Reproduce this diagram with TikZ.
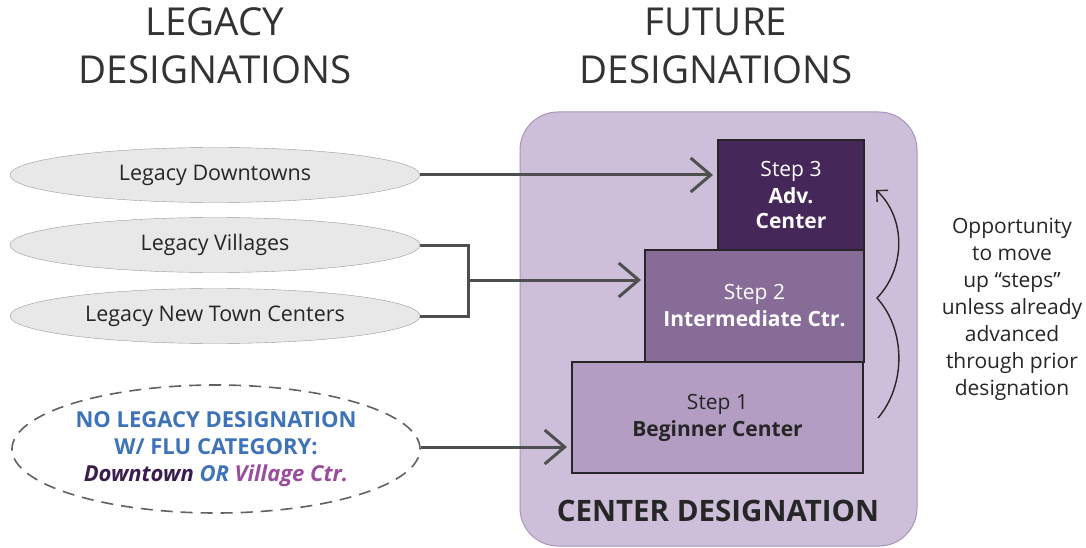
\documentclass[tikz,border=0pt]{standalone}
\usepackage{fontspec}
\setmainfont{Open Sans}
\usetikzlibrary{shapes.geometric,arrows.meta}
\definecolor{bgp}{HTML}{CDBFD9}
\definecolor{bgpb}{HTML}{A995B8}
\definecolor{s3}{HTML}{45275A}
\definecolor{s2}{HTML}{876C98}
\definecolor{s1}{HTML}{B39DC3}
\definecolor{ln}{HTML}{4F4F4F}
\definecolor{bl}{HTML}{3E73B8}
\definecolor{dp}{HTML}{3A1D4C}
\definecolor{vp}{HTML}{9A4D9C}
\tikzset{
  leg/.style={ellipse, draw=gray!80, fill=gray!18, minimum width=410pt, minimum height=55pt, inner sep=0pt, font=\fontsize{21.5}{25}\selectfont, text=black!85},
  stepbox/.style={draw=black!85, line width=1.2pt, inner sep=0pt, align=center, font=\fontsize{21}{27}\selectfont},
  conn/.style={draw=ln, line width=3pt, -{Straight Barb[length=20pt,width=34pt,line width=3pt]}},
  plain/.style={draw=ln, line width=3pt},
  title/.style={font=\fontsize{38.5}{48}\selectfont, text=black!80, align=center}
}
\begin{document}
\begin{tikzpicture}[x=1pt,y=-1pt]
\useasboundingbox[fill=white] (0,0) rectangle (1086,548);
\node[title] (tl) at (215,46) {LEGACY\\DESIGNATIONS};
\node[title] (tf) at (716,46) {FUTURE\\DESIGNATIONS};
% big panel
\draw[draw=bgpb, fill=bgp, line width=1pt, rounded corners=38pt] (520,112) rectangle (917,546);
\node[font=\bfseries\fontsize{29.5}{32}\selectfont, text=black!85] (cd) at (718,511) {CENTER DESIGNATION};
% steps
\node[stepbox, fill=s1, minimum width=291pt, minimum height=111pt, text=black!85] (st1) at (717.5,417.5) {Step 1\\\textbf{Beginner Center}};
\node[stepbox, fill=s2, minimum width=219pt, minimum height=112pt, text=white] (st2) at (754.5,306) {Step 2\\\textbf{Intermediate Ctr.}};
\node[stepbox, fill=s3, minimum width=146pt, minimum height=110pt, text=white] (st3) at (791,195) {Step 3\\\textbf{Adv.}\\[-2pt]\textbf{Center}};
% legacy ellipses
\node[leg] (ld) at (215,175) {Legacy Downtowns};
\node[leg] (lv) at (215,245) {Legacy Villages};
\node[leg] (ln) at (215,316) {Legacy New Town Centers};
\node[ellipse, draw=ln!90, dashed, dash pattern=on 12pt off 8pt, line width=1.6pt, minimum width=408pt, minimum height=128pt, inner sep=0pt, align=center, font=\bfseries\fontsize{22}{27}\selectfont, text=bl] (nl) at (216,449) {NO LEGACY DESIGNATION\\W/ FLU CATEGORY:\\\textit{\textcolor{dp}{Downtown} OR \textcolor{vp}{Village Ctr.}}};
% connectors
\coordinate (j1) at (468,245);
\coordinate (j2) at (468,316);
\coordinate (jm) at (468,280);
\draw[conn] (ld.east) -- (713,175);
\draw[plain] (lv.east) -- (j1) -- (j2) -- (ln.east);
\draw[conn] (jm) -- (641,280);
\draw[conn] (nl.east |- 0,447) -- (567,447);
% curve arrow
\coordinate (c0) at (878,418);
\coordinate (c1) at (877,298);
\coordinate (c2) at (876,190);
\draw[draw=black!85, line width=1.4pt, -{Straight Barb[length=8pt,width=16pt,line width=1.4pt]}]
  (c0) .. controls (906,385) and (906,330) .. (c1)
       .. controls (906,268) and (906,218) .. (c2);
\node[font=\fontsize{21}{27}\selectfont, align=center, text=black!85] (op) at (1012,309) {Opportunity\\to move\\up “steps”\\unless already\\advanced\\through prior\\designation};
\end{tikzpicture}
\end{document}
